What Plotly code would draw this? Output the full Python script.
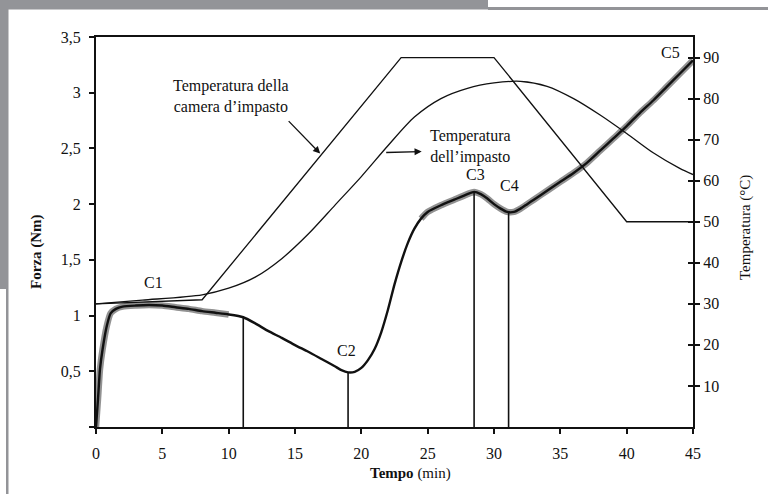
import plotly.graph_objects as go

# ---------------- data ----------------
force_t = [0, 0.15, 0.3, 0.5, 0.8, 1.1, 1.5, 2, 3, 4, 5, 6, 7, 8, 9, 10, 11.1,
           12, 13, 14, 15, 16, 17, 18, 18.5, 19, 19.5, 20, 20.5, 21, 21.5, 22,
           22.5, 23, 23.5, 24, 24.5, 25, 26, 27, 28, 28.5, 29, 29.5, 30, 30.5,
           31, 31.5, 32, 32.5, 33, 34, 35, 36, 37, 38, 39, 40, 41, 42, 43, 44, 45]
force_nm = [0.0, 0.25, 0.52, 0.7, 0.9, 1.02, 1.06, 1.08, 1.09, 1.095, 1.09, 1.075,
            1.06, 1.04, 1.025, 1.01, 0.985, 0.93, 0.86, 0.80, 0.735, 0.675, 0.61,
            0.545, 0.51, 0.49, 0.495, 0.53, 0.6, 0.7, 0.85, 1.05, 1.28, 1.48, 1.65,
            1.78, 1.87, 1.93, 1.99, 2.04, 2.09, 2.11, 2.09, 2.05, 2.0, 1.96, 1.93,
            1.93, 1.96, 2.0, 2.04, 2.12, 2.2, 2.28, 2.37, 2.48, 2.59, 2.7, 2.82,
            2.93, 3.05, 3.17, 3.29]

chamber_t = [0, 8, 23, 30, 40, 45]
chamber_temp = [30, 31, 90, 90, 50, 50]

dough_t = [0, 3.5, 8, 10, 12, 14, 16, 18, 20, 22, 24, 26, 28, 30, 32, 34, 36, 38,
           40, 42, 44, 45]
dough_temp = [30, 30.9, 32.2, 33.8, 36.5, 41, 47, 54, 61, 68.5, 75.5, 80, 82.5,
              83.8, 84.2, 83, 80, 76, 71.5, 66.8, 63, 61.5]

# characteristic points C1..C5 (vertical drop lines at C1-end, C2, C3, C4)
drop_t = [11.1, 19.0, 28.5, 31.1]
drop_f = [0.985, 0.49, 2.11, 1.93]

point_labels = ["C1", "C2", "C3", "C4", "C5"]
point_t = [4.3, 18.9, 28.6, 31.2, 43.3]
point_f = [1.30, 0.69, 2.27, 2.17, 3.36]

force_ticks = [0, 0.5, 1, 1.5, 2, 2.5, 3, 3.5]
force_ticktext = ["", "0,5", "1", "1,5", "2", "2,5", "3", "3,5"]
temp_ticks = [10, 20, 30, 40, 50, 60, 70, 80, 90]
time_ticks = [0, 5, 10, 15, 20, 25, 30, 35, 40, 45]

# ---------------- layout geometry (pixels) ----------------
W, H = 768, 494
L, R, T, B = 96, 693, 37, 427
PW, PH = R - L, B - T


def px_x(p):
    return (p - L) / PW


def px_y(p):
    return (B - p) / PH


FONT = "Liberation Serif, Times New Roman, serif"
INK = "#111111"

fig = go.Figure()

# grey halo (noisy signal) for the force curve
halo_ranges = [(0, 10.5), (24.5, 45)]
for a, b in halo_ranges:
    xs = [t for t in force_t if a <= t <= b]
    ys = [f for t, f in zip(force_t, force_nm) if a <= t <= b]
    fig.add_trace(go.Scatter(x=xs, y=ys, mode="lines",
                             line=dict(color="rgba(110,110,110,0.75)", width=6.5,
                                       shape="spline", smoothing=0.6),
                             hoverinfo="skip", showlegend=False))

# force curve
fig.add_trace(go.Scatter(x=force_t, y=force_nm, mode="lines",
                         line=dict(color=INK, width=2.4, shape="spline", smoothing=0.6),
                         showlegend=False))

# vertical drop lines
for t, f in zip(drop_t, drop_f):
    fig.add_trace(go.Scatter(x=[t, t], y=[0, f], mode="lines",
                             line=dict(color=INK, width=1.6),
                             hoverinfo="skip", showlegend=False))

# temperatures
fig.add_trace(go.Scatter(x=chamber_t, y=chamber_temp, mode="lines", yaxis="y2",
                         line=dict(color=INK, width=1.3), showlegend=False))
fig.add_trace(go.Scatter(x=dough_t, y=dough_temp, mode="lines", yaxis="y2",
                         line=dict(color=INK, width=1.3, shape="spline", smoothing=0.8),
                         showlegend=False))

# helper trace so the inner-tick axis is drawn
fig.add_trace(go.Scatter(x=[0], y=[0], yaxis="y3", mode="markers",
                         marker=dict(opacity=0), hoverinfo="skip", showlegend=False))

annotations = []
for lab, t, f in zip(point_labels, point_t, point_f):
    annotations.append(dict(x=t, y=f, xref="x", yref="y", text=lab, showarrow=False,
                            font=dict(family=FONT, size=16, color=INK)))

# text labels for temperature curves
annotations.append(dict(x=10.17, y=80.6, xref="x", yref="y2",
                        text="Temperatura della<br>camera d\u2019impasto",
                        showarrow=False, align="center",
                        font=dict(family=FONT, size=16, color=INK)))
annotations.append(dict(x=28.2, y=68.4, xref="x", yref="y2",
                        text="Temperatura<br>dell\u2019impasto",
                        showarrow=False, align="center",
                        font=dict(family=FONT, size=16, color=INK)))
# arrows
annotations.append(dict(x=16.9, y=66.6, xref="x", yref="y2", text="",
                        showarrow=True, arrowhead=2, arrowsize=1.1, arrowwidth=1.3,
                        arrowcolor=INK, ax=-33, ay=-34))
annotations.append(dict(x=24.55, y=67.1, xref="x", yref="y2", text="",
                        showarrow=True, arrowhead=2, arrowsize=1.1, arrowwidth=1.3,
                        arrowcolor=INK, ax=-37, ay=1))

# axis titles
annotations.append(dict(x=px_x(410), y=px_y(473), xref="paper", yref="paper",
                        xanchor="center", yanchor="middle",
                        text="<b>Tempo</b> (min)", showarrow=False,
                        font=dict(family=FONT, size=15, color=INK)))
annotations.append(dict(x=px_x(36), y=px_y(252), xref="paper", yref="paper",
                        xanchor="center", yanchor="middle",
                        text="<b>Forza (Nm)</b>", showarrow=False, textangle=-90,
                        font=dict(family=FONT, size=15, color=INK)))
annotations.append(dict(x=px_x(745), y=px_y(228), xref="paper", yref="paper",
                        xanchor="center", yanchor="middle",
                        text="Temperatura (\u00b0C)", showarrow=False, textangle=-90,
                        font=dict(family=FONT, size=15, color=INK)))

# scan border decorations (grey bands)
GREY = "#939498"
shapes = []
for x0, y0, x1, y1 in [(0, 0, 488, 9.5), (488, 7, 768, 10), (0, 0, 8.5, 289),
                       (6, 289, 8.5, 494)]:
    shapes.append(dict(type="rect", xref="paper", yref="paper",
                       x0=px_x(x0), x1=px_x(x1), y0=px_y(y0), y1=px_y(y1),
                       fillcolor=GREY, line=dict(width=0), layer="above"))

tickfont = dict(family=FONT, size=16, color=INK)

fig.update_layout(
    width=W, height=H, autosize=False,
    margin=dict(l=L, r=W - R, t=T, b=H - B),
    paper_bgcolor="white", plot_bgcolor="white",
    showlegend=False,
    xaxis=dict(range=[0, 45], tickvals=time_ticks, ticks="outside", ticklen=5,
               tickwidth=2, tickcolor=INK, showline=True, linewidth=2, linecolor=INK,
               mirror=True, showgrid=False, zeroline=False, tickfont=tickfont,
               ticklabelstandoff=6),
    yaxis=dict(range=[0, 3.5], tickvals=force_ticks, ticktext=force_ticktext,
               ticks="outside", ticklen=5, tickwidth=2, tickcolor=INK,
               showline=True, linewidth=2, linecolor=INK, showgrid=False,
               zeroline=False, tickfont=tickfont, ticklabelstandoff=5),
    yaxis2=dict(range=[0, 95], tickvals=temp_ticks, overlaying="y", side="right",
                anchor="x", ticks="outside", ticklen=5, tickwidth=2, tickcolor=INK,
                showline=True, linewidth=2, linecolor=INK, showgrid=False,
                zeroline=False, tickfont=tickfont),
    yaxis3=dict(range=[0, 95], tickvals=temp_ticks, overlaying="y", side="right",
                anchor="x", ticks="inside", ticklen=5, tickwidth=2, tickcolor=INK,
                showline=False, showgrid=False, zeroline=False,
                showticklabels=False),
    annotations=annotations,
    shapes=shapes,
)

fig.write_html("out.html", config={"displayModeBar": False},
               post_script="document.body.style.margin='0';")
